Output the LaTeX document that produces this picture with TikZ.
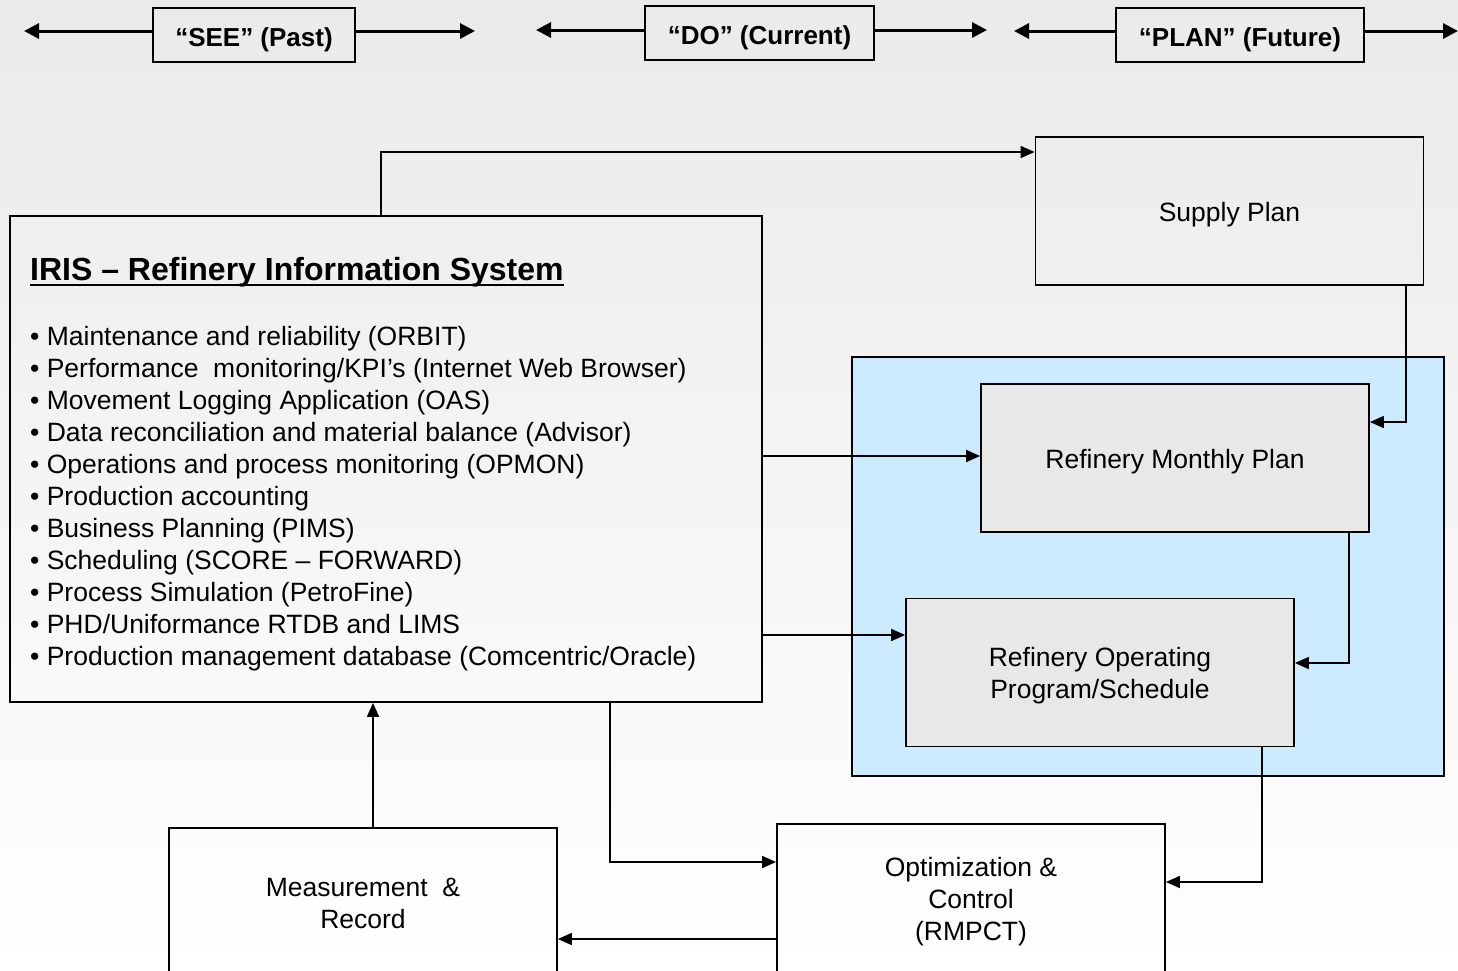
\documentclass[tikz,border=0pt]{standalone}
\usepackage{fontspec}
\setmainfont{Liberation Sans}
\usetikzlibrary{arrows.meta}

\definecolor{panelblue}{HTML}{CCEBFF}
\definecolor{planfill}{HTML}{E8E8E8}
\definecolor{pagetop}{HTML}{EAEAEA}

\newcommand{\boxtop}{\rule[-7pt]{0pt}{34pt}}
\newcommand{\boxbottom}{\rule[-7pt]{0pt}{7pt}}
\newcommand{\phasetop}{\rule[-7pt]{0pt}{36pt}}

\tikzset{
  box/.style={draw, line width=1.8pt, minimum width=388pt, minimum height=148pt,
    inner sep=0pt, align=center, font=\fontsize{26.5}{32}\selectfont},
  grey box/.style={box, fill=planfill},
  phase/.style={draw, line width=1.8pt, minimum height=54pt, inner sep=0pt,
    font=\bfseries\fontsize{26}{30}\selectfont},
  item/.style={anchor=base west, inner sep=0pt, font=\fontsize{26.5}{32}\selectfont},
  link/.style={line width=1.8pt, -{Triangle[length=14pt,width=12pt]}},
  span/.style={line width=3pt, -{Triangle[length=15pt,width=15pt]}}
}

\begin{document}
\begin{tikzpicture}[x=1pt,y=-1pt]

\clip (0,0) rectangle (1458,970);
\shade [top color=pagetop, bottom color=white] (0,0) rectangle (1458,970);

% time line
\node [phase, minimum width=202pt] (see) at (254,35) {\phasetop“SEE” (Past)\boxbottom};
\node [phase, minimum width=229pt] (do) at (759.5,33) {\phasetop“DO” (Current)\boxbottom};
\node [phase, minimum width=248pt] (plan) at (1240,35) {\phasetop“PLAN” (Future)\boxbottom};

\coordinate (see l) at (24,31);
\coordinate (see r) at (475,31);
\coordinate (do l) at (536,30);
\coordinate (do r) at (987,30);
\coordinate (plan l) at (1014,31);
\coordinate (plan r) at (1458,31);

\draw [span] (see.west |- see l) -- (see l);
\draw [span] (see.east |- see r) -- (see r);
\draw [span] (do.west |- do l) -- (do l);
\draw [span] (do.east |- do r) -- (do r);
\draw [span] (plan.west |- plan l) -- (plan l);
\draw [span] (plan.east |- plan r) -- (plan r);

% boxes
\node [draw, line width=1.8pt, fill=panelblue, minimum width=592pt, minimum height=419pt] (panel) at (1148,566.5) {};
\node [draw, line width=1.8pt, minimum width=752pt, minimum height=486pt] (iris) at (386,459) {};

\node [box] (supply) at (1229.5,211) {\boxtop Supply Plan\boxbottom};
\node [grey box] (monthly) at (1175,458) {\boxtop Refinery Monthly Plan\boxbottom};
\node [grey box] (operating) at (1100,672.5) {\boxtop Refinery Operating\\Program/Schedule\boxbottom};
\node [box] (measure) at (363,902) {\boxtop Measurement\ \ \&\\Record\boxbottom};
\node [box] (optim) at (971,898) {\boxtop Optimization \&\\Control\\(RMPCT)\boxbottom};

% IRIS text
\node [anchor=base west, inner sep=0pt, font=\bfseries\fontsize{32}{38}\selectfont] (iris title) at (30,280) {IRIS – Refinery Information System};
\draw [line width=2.8pt] ([yshift=-5pt]iris title.base west) -- ([yshift=-5pt]iris title.base east);

\foreach \txt [count=\n from 0] in {
  Maintenance and reliability (ORBIT),
  Performance\ \ monitoring/KPI’s (Internet Web Browser),
  Movement Logging Application (OAS),
  Data reconciliation and material balance (Advisor),
  Operations and process monitoring (OPMON),
  Production accounting,
  Business Planning (PIMS),
  Scheduling (SCORE – FORWARD),
  Process Simulation (PetroFine),
  PHD/Uniformance RTDB and LIMS,
  Production management database (Comcentric/Oracle)}
  \node [item] (item\n) at (30,{345+32*\n}) {• \txt};

% bends
\coordinate (k1) at (381,152);
\coordinate (k2) at (1406,422);
\coordinate (k3) at (0,456);
\coordinate (k4) at (0,635);
\coordinate (k5) at (1349,663);
\coordinate (k6) at (1262,882);
\coordinate (k7) at (610,862);
\coordinate (k8) at (0,939);
\coordinate (k9) at (373,0);

\draw [link] (iris.north -| k1) |- (supply.west |- k1);
\draw [link] (supply.south -| k2) |- (monthly.east |- k2);
\draw [link] (iris.east |- k3) -- (monthly.west |- k3);
\draw [link] (iris.east |- k4) -- (operating.west |- k4);
\draw [link] (monthly.south -| k5) |- (operating.east |- k5);
\draw [link] (operating.south -| k6) |- (optim.east |- k6);
\draw [link] (iris.south -| k7) |- (optim.west |- k7);
\draw [link] (optim.west |- k8) -- (measure.east |- k8);
\draw [link] (measure.north -| k9) -- (iris.south -| k9);

\end{tikzpicture}
\end{document}
